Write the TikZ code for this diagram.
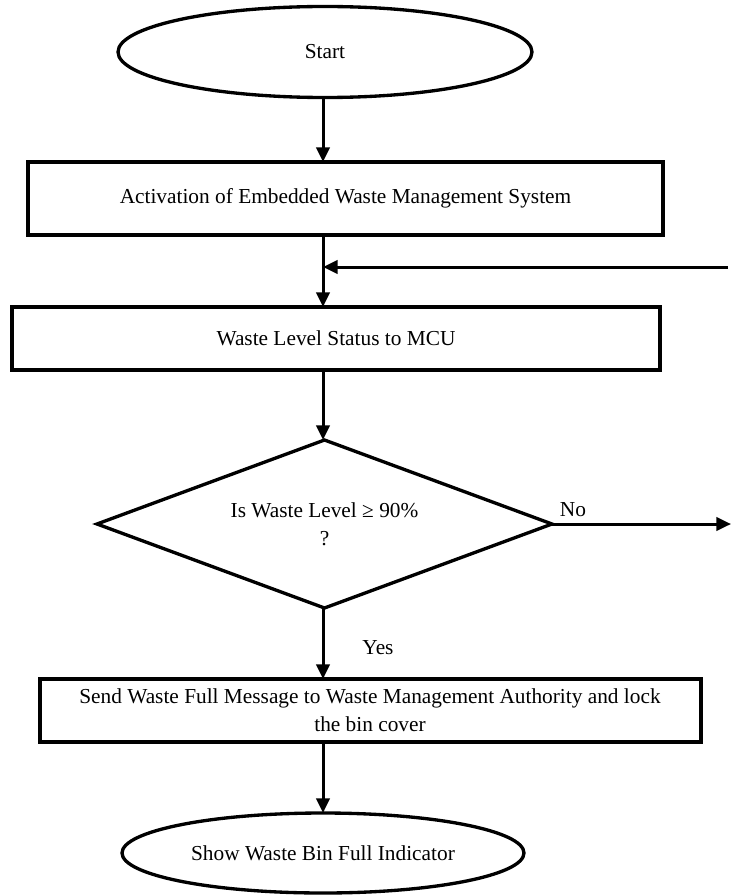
\documentclass[tikz,border=0pt]{standalone}
\usepackage{fontspec}
\setmainfont{Liberation Serif}
\usetikzlibrary{shapes.geometric,arrows.meta}
\begin{document}
\begin{tikzpicture}[x=0.75pt,y=-0.75pt,
  every node/.style={font=\fontsize{16}{21}\selectfont, inner sep=0pt, outer sep=0pt},
  termbox/.style={draw, ellipse, line width=2.5pt},
  procbox/.style={draw, rectangle, line width=3pt},
  decbox/.style={draw, diamond, aspect=2.7, line width=2.5pt, align=center},
  arr/.style={line width=2.25pt, -{Triangle[length=11pt,width=10pt]}},
  lbl/.style={}
]
\useasboundingbox (0,0) rectangle (731,895);
\coordinate (colx) at (323,0);

\node[termbox, minimum width=310.5pt, minimum height=68.25pt] (start) at (325,52) {Start};
\node[procbox, minimum width=476.25pt, minimum height=54.75pt] (act) at (345.5,198.5) {Activation of Embedded Waste Management System};
\node[procbox, minimum width=486pt, minimum height=47.25pt] (wst) at (336,338.5) {Waste Level Status to MCU};
\node[decbox, minimum width=341.25pt, minimum height=126pt] (dec) at (324.5,524) {Is Waste Level ≥ 90\%\\?};
\node[procbox, minimum width=495.75pt, minimum height=47.25pt, align=center] (send) at (370,710.5) {Send Waste Full Message to Waste Management Authority and lock\\the bin cover};
\node[termbox, minimum width=301.5pt, minimum height=60pt] (stop) at (323,853) {Show Waste Bin Full Indicator};

\coordinate (fb) at (728,267);
\coordinate (noend) at (731,524);

\draw[arr] (start.south -| colx) -- (act.north -| colx);
\draw[arr] (act.south -| colx) -- (wst.north -| colx);
\draw[arr] (fb) -- (fb -| colx);
\draw[arr] (wst.south -| colx) -- (dec.north -| colx);
\draw[arr] (dec.east) -- (noend);
\draw[arr] (dec.south -| colx) -- (send.north -| colx);
\draw[arr] (send.south -| colx) -- (stop.north -| colx);

\node[lbl] (no) at (573,510) {No};
\node[lbl] (yes) at (378,648) {Yes};
\end{tikzpicture}
\end{document}
